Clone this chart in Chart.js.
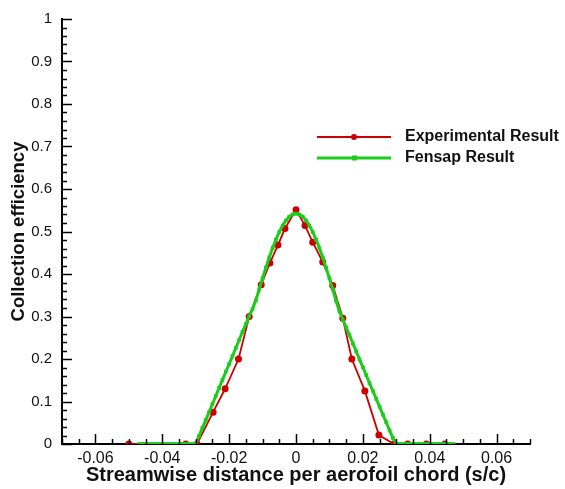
<!DOCTYPE html>
<html>
<head>
<meta charset="utf-8">
<script src="https://cdn.jsdelivr.net/npm/chart.js@4.4.1/dist/chart.umd.min.js"></script>
<style>
  html, body { margin: 0; padding: 0; background: #fff; }
  #wrap { width: 565px; height: 489px; }
</style>
</head>
<body>
<div id="wrap"><canvas id="betaChart" width="565" height="489"></canvas></div>
<script>
// experimental collection efficiency
const expS = [-0.050, -0.033, -0.0296, -0.0248, -0.0212, -0.0172, -0.0140, -0.0104, -0.0078, -0.0054, -0.0033, 0,
  0.0027, 0.0050, 0.0080, 0.0110, 0.0140, 0.0167, 0.0206, 0.0248, 0.0293, 0.0334, 0.0390, 0.0445];
const expBeta = [0, 0, 0, 0.075, 0.130, 0.200, 0.300, 0.375, 0.426, 0.468, 0.507, 0.551,
  0.514, 0.475, 0.428, 0.373, 0.296, 0.200, 0.125, 0.021, 0, 0, 0, 0];

// fensap result
const fensapS = [-0.047, -0.046, -0.045, -0.044, -0.043, -0.042, -0.041, -0.040, -0.039, -0.038, -0.037, -0.036,
  -0.035, -0.034, -0.033, -0.032, -0.031, -0.030, -0.029, -0.028, -0.027, -0.026, -0.025, -0.024, -0.023, -0.022,
  -0.021, -0.020, -0.019, -0.018, -0.017, -0.016, -0.015, -0.014, -0.013, -0.012, -0.011, -0.010, -0.009, -0.008,
  -0.007, -0.006, -0.005, -0.004, -0.003, -0.002, -0.001, 0,
  0.001, 0.002, 0.003, 0.004, 0.005, 0.006, 0.007, 0.008, 0.009, 0.010, 0.011, 0.012, 0.013, 0.014, 0.015, 0.016,
  0.017, 0.018, 0.019, 0.020, 0.021, 0.022, 0.023, 0.024, 0.025, 0.026, 0.027, 0.028, 0.029, 0.030, 0.031, 0.032,
  0.033, 0.034, 0.035, 0.036, 0.037, 0.038, 0.039, 0.040, 0.041, 0.042, 0.043, 0.044, 0.045, 0.046, 0.047];
const fensapBeta = [0, 0, 0, 0, 0, 0, 0, 0, 0, 0, 0, 0,
  0, 0, 0, 0, 0, 0, 0.019, 0.038, 0.056, 0.075, 0.094, 0.113, 0.132, 0.151,
  0.170, 0.188, 0.207, 0.226, 0.245, 0.264, 0.282, 0.301, 0.318, 0.338, 0.364, 0.390, 0.415, 0.439,
  0.461, 0.481, 0.499, 0.514, 0.526, 0.535, 0.540, 0.542,
  0.540, 0.535, 0.526, 0.514, 0.499, 0.481, 0.461, 0.439, 0.415, 0.390, 0.364, 0.336, 0.312, 0.293, 0.274, 0.256,
  0.237, 0.218, 0.199, 0.181, 0.162, 0.143, 0.125, 0.106, 0.088, 0.069, 0.051, 0.032, 0.014, 0, 0, 0,
  0, 0, 0, 0, 0, 0, 0, 0, 0, 0, 0, 0, 0, 0, 0];

const xTicks = [-0.06, -0.04, -0.02, 0, 0.02, 0.04, 0.06];
const yTicks = [0, 0.1, 0.2, 0.3, 0.4, 0.5, 0.6, 0.7, 0.8, 0.9, 1];

const seriesNames = ["Experimental Result", "Fensap Result"];
const red = "#cc0000";
const green = "#1ccc1c";

const toPoints = (xs, ys) => xs.map((x, i) => ({ x: x, y: ys[i] }));

// tecplot-style ticks pointing into the plot
const innerTicks = {
  id: "innerTicks",
  afterDraw(chart) {
    const c = chart.ctx, a = chart.chartArea;
    const sx = chart.scales.x, sy = chart.scales.y;
    c.save();
    c.strokeStyle = "#000";
    c.lineWidth = 1.5;
    c.beginPath();
    for (let i = -14; i <= 14; i++) {
      const v = i * 0.005;
      const major = i % 4 === 0 && Math.abs(i) < 14;
      const px = Math.round(sx.getPixelForValue(v)) + 0.5;
      c.moveTo(px, a.bottom);
      c.lineTo(px, a.bottom - (major ? 10 : 5));
    }
    for (let j = 0; j <= 50; j++) {
      const v = j * 0.02;
      const major = j % 5 === 0;
      const py = Math.round(sy.getPixelForValue(v)) + 0.5;
      c.moveTo(a.left, py);
      c.lineTo(a.left + (major ? 10 : 5), py);
    }
    c.stroke();
    c.restore();
  }
};

// legend with line + marker, like the original
const lineLegend = {
  id: "lineLegend",
  afterDraw(chart) {
    const c = chart.ctx;
    const rows = [
      { name: seriesNames[0], color: red, y: 137, square: false },
      { name: seriesNames[1], color: green, y: 158, square: true }
    ];
    c.save();
    rows.forEach(r => {
      c.strokeStyle = r.color;
      c.lineWidth = r.square ? 3 : 2;
      c.beginPath();
      c.moveTo(317, r.y);
      c.lineTo(391, r.y);
      c.stroke();
      c.fillStyle = r.color;
      if (r.square) {
        c.fillRect(352, r.y - 2.5, 5, 5);
      } else {
        c.beginPath();
        c.arc(354, r.y, 3, 0, Math.PI * 2);
        c.fill();
      }
      c.fillStyle = "#111";
      c.font = "bold 16px 'Liberation Sans', Arial, sans-serif";
      c.textBaseline = "middle";
      c.textAlign = "left";
      c.fillText(r.name, 405, r.y);
    });
    c.restore();
  }
};

new Chart("betaChart", {
  type: "scatter",
  data: {
    datasets: [
      {
        label: seriesNames[0],
        data: toPoints(expS, expBeta),
        showLine: true,
        borderColor: red,
        backgroundColor: red,
        borderWidth: 1.8,
        pointRadius: 3.5,
        pointBorderWidth: 0,
        pointStyle: "circle",
        order: 2
      },
      {
        label: seriesNames[1],
        data: toPoints(fensapS, fensapBeta),
        showLine: true,
        borderColor: green,
        backgroundColor: green,
        borderWidth: 3,
        pointRadius: 2.6,
        pointBorderWidth: 0,
        pointStyle: "rect",
        order: 1
      }
    ]
  },
  options: {
    responsive: false,
    animation: false,
    layout: { padding: { top: 12, right: 35, left: 0, bottom: 0 } },
    plugins: {
      legend: { display: false },
      tooltip: { enabled: false }
    },
    scales: {
      x: {
        type: "linear",
        min: -0.07,
        max: 0.07,
        afterBuildTicks: s => { s.ticks = xTicks.map(v => ({ value: v })); },
        afterFit: s => { s.height = 45; },
        grid: { display: false, drawTicks: false },
        border: { display: true, color: "#000", width: 2 },
        ticks: {
          padding: 5,
          color: "#111",
          maxRotation: 0,
          font: { family: "'Liberation Sans', Arial, sans-serif", size: 16 },
          callback: v => String(Number(v.toFixed(2)))
        },
        title: {
          display: true,
          text: "Streamwise distance per aerofoil chord (s/c)",
          color: "#111",
          font: { family: "'Liberation Sans', Arial, sans-serif", size: 20, weight: "bold" },
          padding: { top: 0, bottom: 2 }
        }
      },
      y: {
        type: "linear",
        min: 0,
        max: 1,
        afterBuildTicks: s => { s.ticks = yTicks.map(v => ({ value: v })); },
        afterFit: s => { s.width = 62; },
        grid: { display: false, drawTicks: false },
        border: { display: true, color: "#000", width: 2 },
        ticks: {
          padding: 10,
          color: "#111",
          font: { family: "'Liberation Sans', Arial, sans-serif", size: 15 },
          callback: v => String(Number(v.toFixed(1)))
        },
        title: {
          display: true,
          text: "Collection efficiency",
          color: "#111",
          font: { family: "'Liberation Sans', Arial, sans-serif", size: 18.5, weight: "bold" },
          padding: { top: 8, bottom: 0 }
        }
      }
    }
  },
  plugins: [innerTicks, lineLegend]
});
</script>
</body>
</html>
